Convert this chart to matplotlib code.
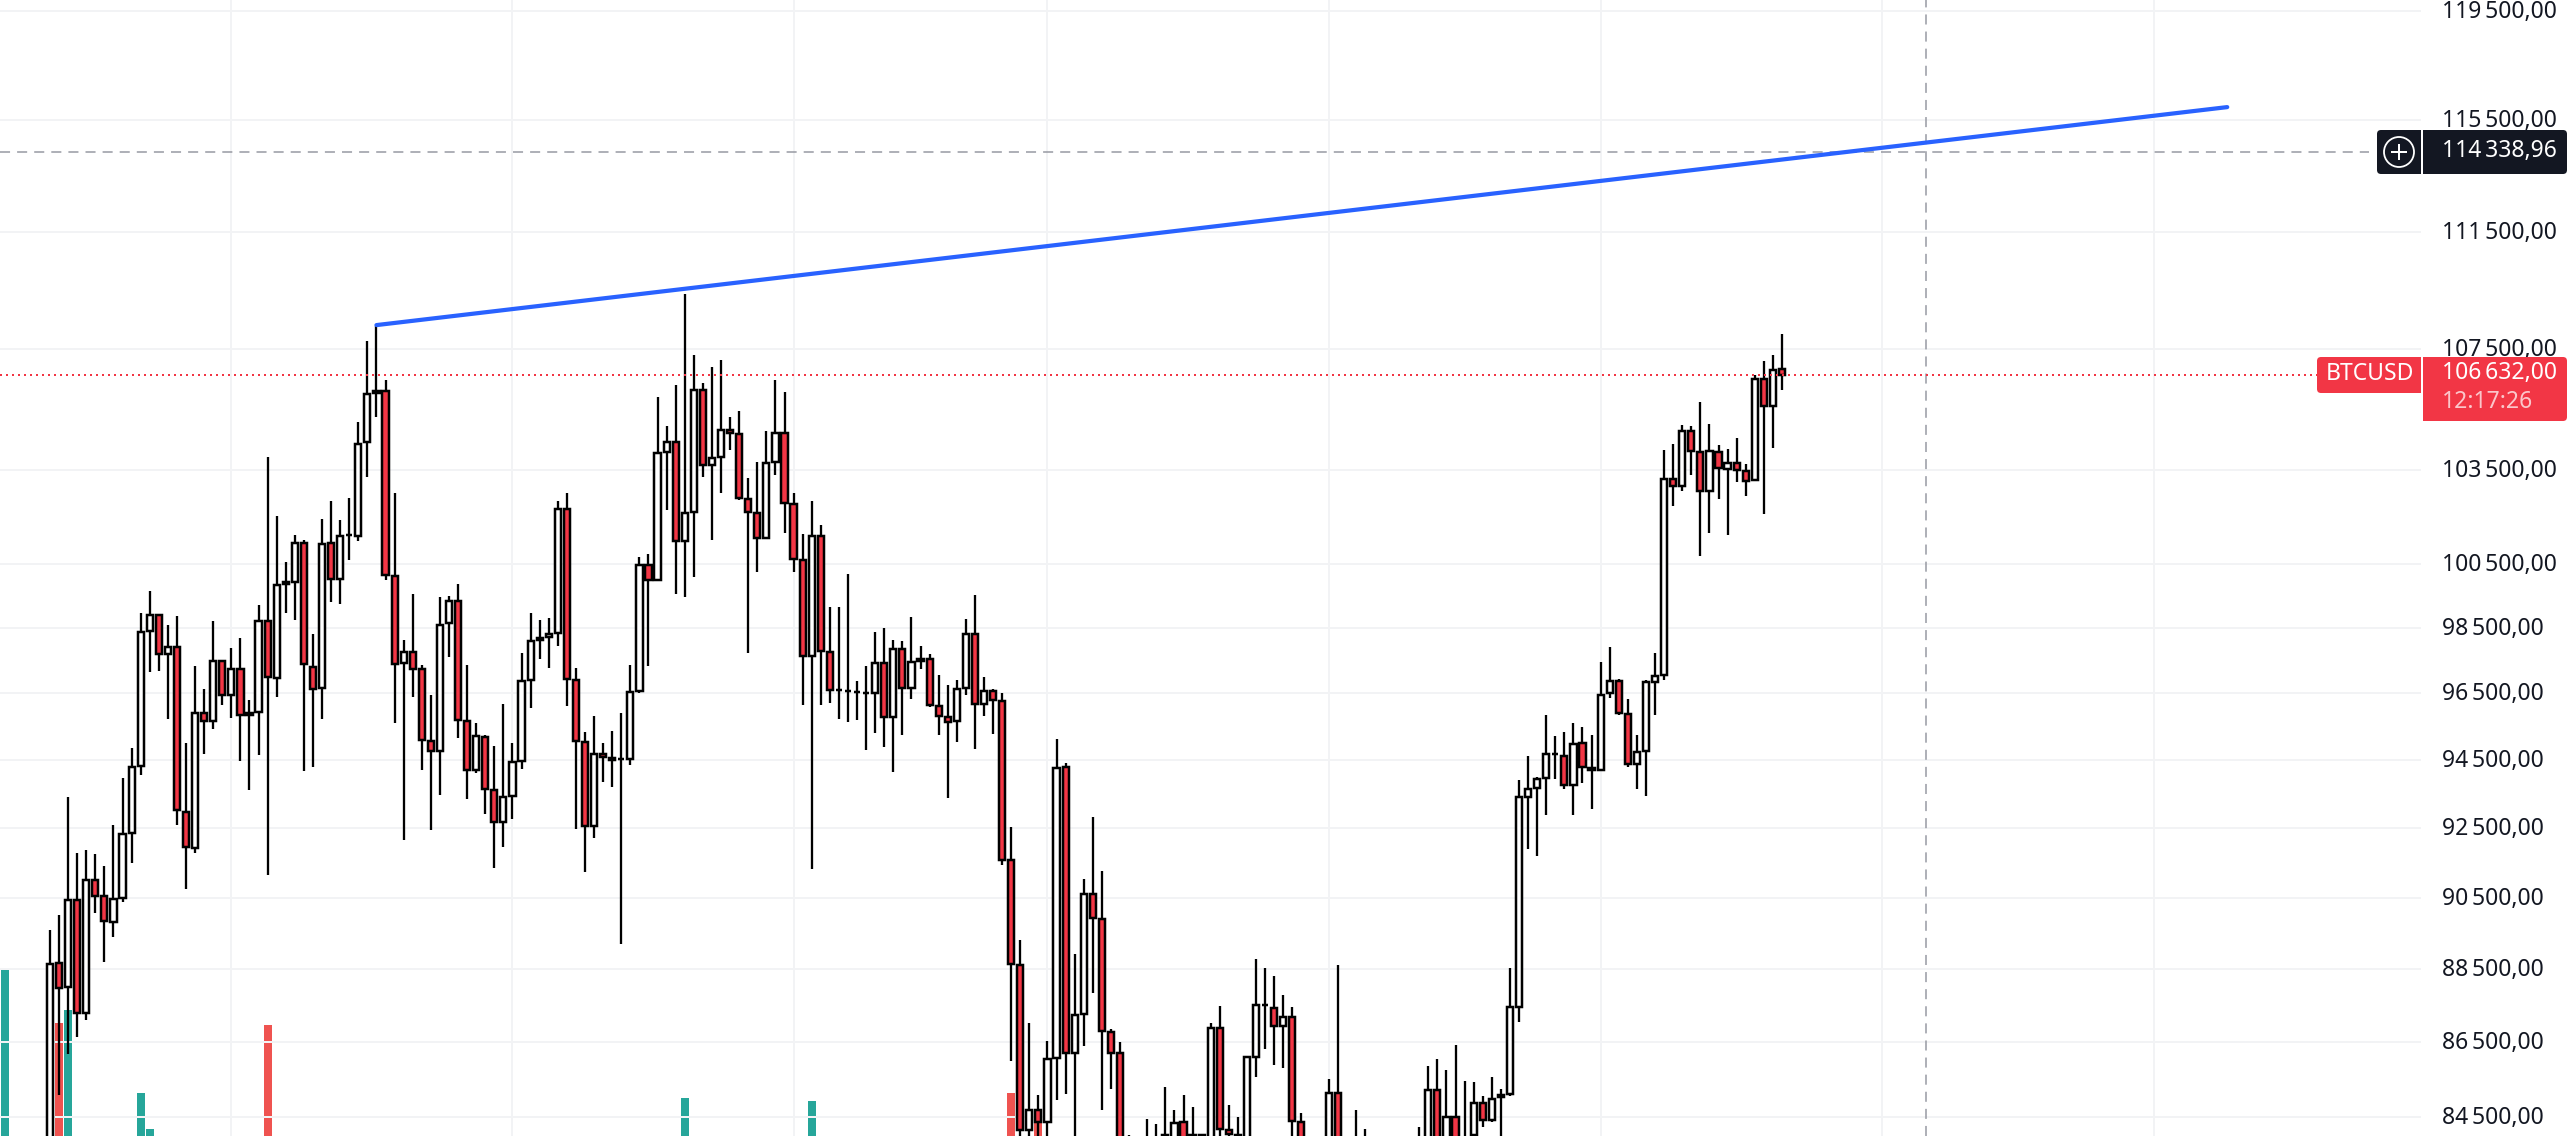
import numpy as np
import matplotlib
matplotlib.use('Agg')
import matplotlib.pyplot as plt
from matplotlib.patches import FancyBboxPatch, Rectangle, Circle
from matplotlib.lines import Line2D
from matplotlib.transforms import IdentityTransform, ScaledTranslation
from matplotlib.ticker import FixedLocator, FixedFormatter, NullLocator

plt.rcParams['font.family'] = ['Noto Sans', 'DejaVu Sans']

# Prices are listed in tens of USD
PRICE_UNIT = 10
opens = [8233,8868,8801,9045,8730,9102,9056,8983,9050,9237,9433,9840,9890,9770,9791,9298,9193,9591,9567,9748,9645,9724,9591,9594,
9871,9697,9993,9993,10116,9730,9666,10116,10002,10141,10138,10441,10609,10609,10012,9742,9776,9724,9507,9477,9865,9933,9567,9421,
9519,9362,9269,9344,9448,9690,9819,9822,9834,10224,9690,9504,9257,9468,9456,9453,9453,9657,10046,9999,10408,10441,10122,10215,
10613,10366,10392,10480,10467,10256,10211,10132,10376,10471,10240,10062,9764,10138,9776,9660,9657,9654,9651,9651,9742,9579,9785,9666,
9754,9754,9612,9579,9567,9666,9831,9618,9657,9627,9159,8862,8416,8468,8437,8608,9430,8621,8727,9062,8991,8678,8621,8311,
8311,8363,8363,8402,8363,8437,8402,8402,8363,8689,8416,8402,8363,8610,8752,8744,8694,8719,8437,8311,8311,8363,8514,8311,
8337,8337,8311,8311,8311,8311,8311,8337,8363,8522,8363,8450,8337,8402,8487,8442,8508,8511,8746,9342,9368,9397,9468,9462,
9377,9501,9427,9421,9651,9687,9588,9439,9477,9684,9706,10321,10298,10477,10408,10282,10408,10353,10373,10347,10317,10649,10560,10683]
highs = [8960,9002,9342,9179,9188,9176,9142,9260,9397,9486,9896,9965,9890,9859,9887,9501,9733,9663,9871,9748,9788,9819,9630,9921,
10392,10202,10056,10141,10125,9831,10192,10250,10189,10259,10507,10777,10828,10646,10276,9813,9955,9736,9645,9946,9949,9987,9736,9561,
9525,9492,9618,9501,9773,9896,9874,9881,10250,10276,9727,9534,9582,9501,9537,9591,9736,10071,10081,10589,10494,10629,10937,10730,
10636,10690,10713,10523,10543,10324,10376,10477,10646,10606,10276,10144,10250,10173,9915,9915,10018,9687,9733,9837,9850,9813,9810,9884,
9794,9770,9706,9675,9690,9878,9952,9700,9663,9651,9254,8932,8703,8508,8654,9513,9442,8893,9104,9283,9127,8686,8651,8402,
8363,8445,8431,8530,8468,8508,8476,8405,8703,8749,8482,8450,8613,8879,8854,8832,8779,8746,8460,8363,8363,8551,8862,8363,
8468,8418,8363,8363,8363,8363,8363,8423,8586,8605,8575,8643,8546,8543,8506,8557,8524,8854,9391,9462,9400,9585,9522,9534,
9561,9549,9525,9745,9791,9694,9633,9525,9690,9773,10415,10435,10497,10494,10573,10500,10431,10418,10454,10369,10663,10710,10730,10801]
lows = [8105,8508,8618,8664,8711,9008,8871,8940,9039,9150,9406,9715,9718,9573,9260,9076,9179,9468,9543,9615,9576,9448,9362,9465,
9116,9639,9896,9874,9418,9430,9573,9930,9924,10062,10122,10327,10523,9999,9561,9216,9639,9421,9245,9347,9761,9516,9336,9412,
9292,9136,9196,9277,9424,9606,9754,9727,9794,9612,9248,9124,9222,9386,9371,8921,9436,9651,9733,9999,10221,9955,9946,10008,
10327,10125,10276,10415,10253,9773,10024,10132,10334,10147,10024,9615,9133,9615,9621,9573,9564,9570,9480,9531,9489,9415,9525,9633,
9724,9609,9525,9339,9504,9645,9483,9582,9528,9144,8600,8363,8337,8337,8337,8495,8511,8376,8640,8785,8468,8524,8311,8285,
8285,8285,8285,8363,8311,8311,8363,8363,8311,8376,8389,8376,8311,8557,8632,8589,8581,8363,8311,8285,8285,8311,8311,8285,
8311,8311,8285,8285,8285,8285,8285,8311,8311,8311,8311,8311,8311,8376,8423,8437,8363,8506,8705,9190,9170,9289,9394,9365,
9289,9383,9306,9421,9636,9585,9430,9365,9344,9585,9690,10234,10282,10334,10075,10147,10256,10141,10311,10266,10317,10208,10422,10613]
closes = [8865,8799,9045,8730,9102,9056,8985,9048,9234,9430,9837,9890,9770,9791,9304,9196,9591,9567,9748,9645,9724,9585,9585,9871,9700,9983,9987,10116,9739,9663,10113,10002,10138,10141,10435,10599,10603,10015,9739,9776,9724,9510,9477,9859,9933,9570,9421,9522,9365,9269,9342,9445,9687,9810,9813,9831,10224,9694,9507,9257,9468,9459,9450,9453,9654,10046,9999,10405,10441,10122,10211,10613,10366,10389,10480,10471,10259,10215,10132,10373,10471,10243,10065,9764,10138,9779,9660,9660,9657,9654,9651,9742,9579,9785,9666,9745,9748,9615,9582,9564,9663,9831,9618,9657,9630,9159,8865,8416,8468,8437,8605,9427,8621,8724,9062,8994,8681,8621,8363,8363,8350,8311,8311,8400,8434,8363,8400,8400,8689,8418,8405,8400,8610,8752,8752,8694,8719,8439,8363,8350,8350,8514,8363,8350,8376,8376,8350,8350,8350,8350,8350,8376,8522,8363,8450,8363,8376,8487,8442,8498,8503,8746,9342,9365,9394,9468,9468,9377,9498,9430,9421,9645,9687,9591,9439,9474,9684,9703,10321,10298,10477,10412,10282,10412,10356,10373,10350,10314,10649,10560,10679,10663]
opens, highs, lows, closes = [np.array(a, float) * PRICE_UNIT for a in (opens, highs, lows, closes)]

volume_idx = [-5, 1, 2, 10, 11, 24, 70, 84, 106, 109]
volume_val = [168, 113, 126, 43, 7, 111, 38, 35, 43, 14]
volume_up = [True, False, True, True, True, False, True, True, False, False]

tick_prices = [119500, 115500, 111500, 107500, 103500, 100500, 98500, 96500, 94500, 92500, 90500, 88500, 86500, 84500]
tick_labels = ['119\u202f500,00', '115\u202f500,00', '111\u202f500,00', '107\u202f500,00', '103\u202f500,00', '100\u202f500,00',
               '98\u202f500,00', '96\u202f500,00', '94\u202f500,00', '92\u202f500,00', '90\u202f500,00', '88\u202f500,00',
               '86\u202f500,00', '84\u202f500,00']
month_starts = [20, 51, 82, 110, 141, 171, 202, 232]
trend_idx = [36, 240.1]
trend_price = [108310, 115970]
cross_price = 114338.96
cross_idx = 206.9
last_price = 106632

W, H = 2575, 1136
AX_W = 2421
RED = '#F23645'
DARK = '#131722'
GRAY = '#9598A1'
GRID = '#F2F3F5'
PX = 0.72  # points per pixel at dpi 100

fig = plt.figure(figsize=(W / 100, H / 100), dpi=100, facecolor='white')
rect = [0, 0, AX_W / W, 1]
ax_v = fig.add_axes(rect, zorder=1)
ax = fig.add_axes(rect, zorder=2)
ax.patch.set_visible(False)

xlim = (-50 / 9.068, (AX_W - 50) / 9.068)
ax.set_xlim(xlim)
ax.set_yscale('log')
ax.set_ylim(83998, 119930)
ax_v.set_xlim(xlim)
ax_v.set_ylim(0, H)
ax_v.axis('off')

for s in ax.spines.values():
    s.set_visible(False)
ax.yaxis.tick_right()
ax.yaxis.set_major_locator(FixedLocator(tick_prices))
ax.yaxis.set_major_formatter(FixedFormatter(tick_labels))
ax.yaxis.set_minor_locator(NullLocator())
ax.set_xticks(month_starts)
ax.set_xticklabels([])
ax.tick_params(axis='both', length=0)
ax.tick_params(axis='y', pad=15, labelsize=16.5, labelcolor='#131722')
up = ScaledTranslation(0, 2 / 100, fig.dpi_scale_trans)
for t in ax.get_yticklabels():
    t.set_ha('left')
    t.set_transform(t.get_transform() + up)
ax.grid(True, color=GRID, lw=2 * PX, zorder=0)
ax.set_axisbelow(True)

x = np.arange(len(opens))
ax_v.bar(volume_idx, volume_val, width=0.88,
         color=['#26A69A' if u else '#EF5350' for u in volume_up], zorder=1)

ax.vlines(x, lows, highs, color='black', lw=2.3 * PX, zorder=3)
fills = ['white' if c >= o else RED for o, c in zip(opens, closes)]
ax.bar(x, np.abs(closes - opens), bottom=np.minimum(opens, closes), width=0.68,
       facecolor=fills, edgecolor='black', linewidth=2.5 * PX, zorder=4)

ax.plot(trend_idx, trend_price, color='#2962FF', lw=4.2 * PX, solid_capstyle='round', zorder=6)
ax.axvline(cross_idx, color=GRAY, lw=1.5 * PX, ls=(0, (6.7, 4.7)), zorder=5)
ax.plot([xlim[0], (2369 - 50) / 9.068], [cross_price] * 2, color=GRAY, lw=1.5 * PX, ls=(0, (6.7, 4.7)), zorder=5)
ax.plot([xlim[0], (2317 - 50) / 9.068], [last_price] * 2, color=RED, lw=2 * PX, ls=(0, (1, 2)), zorder=5)

# overlay widgets on the price scale, positioned in pixels from the top left
tr = IdentityTransform()
Z = 10

def box(x0, y0, x1, y1, color, rounded=True):
    if rounded:
        p = FancyBboxPatch((x0 + 4, H - y1 + 4), x1 - x0 - 8, y1 - y0 - 8,
                           boxstyle='round,pad=4,rounding_size=4', fc=color, ec='none', transform=tr, zorder=Z)
    else:
        p = Rectangle((x0, H - y1), x1 - x0, y1 - y0, fc=color, ec='none', transform=tr, zorder=Z)
    fig.add_artist(p)

def label(px, py, s, color='white', weight='normal', alpha=1.0, size=16.5):
    fig.text(px, H - py, s, transform=tr, color=color, fontsize=size, fontweight=weight,
             va='center', ha='left', alpha=alpha, zorder=Z + 2)

# crosshair price tag
box(2377, 130, 2421, 174, DARK)
box(2400, 130, 2421, 174, DARK, rounded=False)
box(2423, 130, 2567, 174, DARK)
box(2423, 130, 2450, 174, DARK, rounded=False)
fig.add_artist(Circle((2399, H - 152), 15, fc='none', ec='white', lw=1.8 * PX, transform=tr, zorder=Z + 1))
fig.add_artist(Line2D([2392, 2406], [H - 152] * 2, color='white', lw=2 * PX, transform=tr, zorder=Z + 1))
fig.add_artist(Line2D([2399, 2399], [H - 159, H - 145], color='white', lw=2 * PX, transform=tr, zorder=Z + 1))
label(2442, 151, '114\u202f338,96', weight='bold')

# last price tag
box(2317, 357, 2421, 393, RED)
box(2400, 357, 2421, 393, RED, rounded=False)
box(2423, 357, 2567, 421, RED)
box(2423, 357, 2450, 421, RED, rounded=False)
box(2423, 400, 2450, 421, RED, rounded=False)
label(2326, 374, 'BTCUSD')
label(2442, 373, '106\u202f632,00')
label(2442, 402, '12:17:26', alpha=0.72)

fig.savefig('out.png', dpi=100, facecolor='white')
